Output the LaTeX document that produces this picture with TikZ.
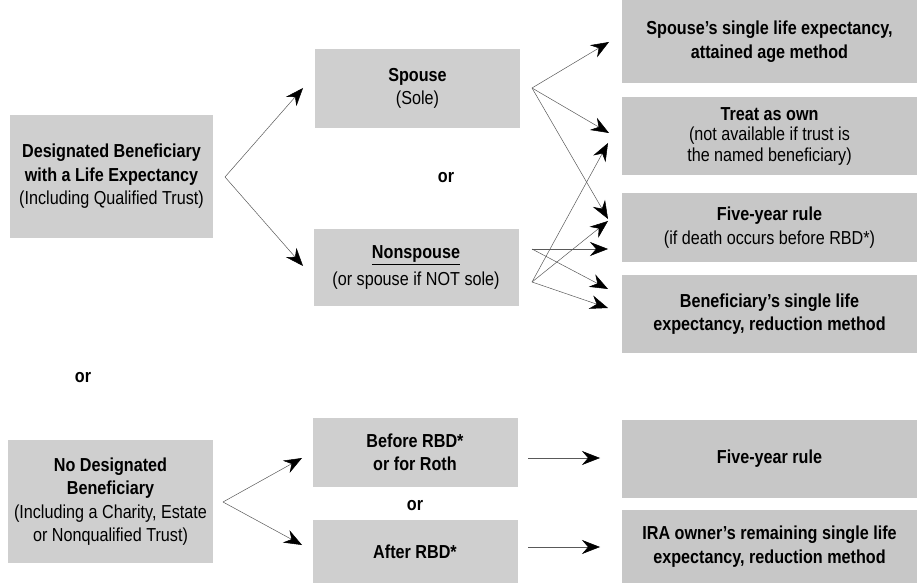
\documentclass[tikz,border=0pt]{standalone}
\usepackage{fontspec}
\setmainfont{Liberation Sans}[FakeStretch=0.86]
\usetikzlibrary{arrows.meta}
\definecolor{boxgray}{gray}{0.81}
\definecolor{rboxgray}{gray}{0.78}
\definecolor{linegray}{gray}{0.35}
\begin{document}
\begin{tikzpicture}[x=1pt,y=-1pt,
  box/.style={fill=boxgray, inner sep=0pt, align=center, text=black,
    font=\fontsize{18.8}{23.5}\selectfont},
  rbox/.style={box, fill=rboxgray, minimum width=295pt},
  midbox/.style={box, minimum width=205pt},
  ortext/.style={font=\fontsize{18.8}{20}\selectfont\bfseries, inner sep=0pt},
  arr/.style={draw=linegray, line width=0.5pt,
    -{Stealth[length=18pt,width=14pt,inset=6pt,color=black]}}]
\useasboundingbox (0,0) rectangle (919,585);

% left boxes
\node[box, minimum width=203pt, minimum height=123pt] (dbl) at (111.5,176.5)
  {\textbf{Designated Beneficiary}\\\textbf{with a Life Expectancy}\\(Including Qualified Trust)};
\node[box, minimum width=205pt, minimum height=123pt] (ndb) at (110.5,501.5)
  {\textbf{No Designated}\\\textbf{Beneficiary}\\(Including a Charity, Estate\\or Nonqualified Trust)};

% middle boxes
\node[midbox, minimum height=79pt] (sp) at (417.5,88.5)
  {\textbf{Spouse}\\(Sole)};
\node[midbox, minimum height=77pt] (ns) at (416,267.5)
  {\textbf{\underline{Nonspouse}}\\[3pt](or spouse if NOT sole)};
\node[midbox, minimum height=69pt] (bef) at (415,452.5)
  {\textbf{Before RBD*}\\\textbf{or for Roth}};
\node[midbox, minimum height=63pt] (aft) at (415,551.5)
  {\textbf{After RBD*}};

% right boxes
\node[rbox, minimum height=83pt] (r1) at (769.5,41.5)
  {\textbf{Spouse's single life expectancy,}\\\textbf{attained age method}};
\node[rbox, minimum height=78pt, font=\fontsize{18.8}{20.5}\selectfont] (r2) at (769.5,136)
  {\textbf{Treat as own}\\(not available if trust is\\the named beneficiary)};
\node[rbox, minimum height=69pt] (r3) at (769.5,227.5)
  {\textbf{Five-year rule}\\(if death occurs before RBD*)};
\node[rbox, minimum height=78pt] (r4) at (769.5,314)
  {\textbf{Beneficiary's single life}\\\textbf{expectancy, reduction method}};
\node[rbox, minimum height=78pt] (r5) at (769.5,459)
  {\textbf{Five-year rule}};
\node[rbox, minimum height=73pt] (r6) at (769.5,546.5)
  {\textbf{IRA owner's remaining single life}\\\textbf{expectancy, reduction method}};

% "or" labels
\node[ortext] (or1) at (446,178) {or};
\node[ortext] (or2) at (83,378) {or};
\node[ortext] (or3) at (415,506) {or};

% branch points and arrow tips
\coordinate (v1) at (225,177);
\coordinate (t1a) at (303,88);
\coordinate (t1b) at (303,266);
\coordinate (v2) at (223,502);
\coordinate (t2a) at (302,458);
\coordinate (t2b) at (302,545);

\coordinate (vs) at (532,88);
\coordinate (vna) at (532,249);
\coordinate (vnb) at (532,282);
\coordinate (ts1) at (609,42);
\coordinate (ts2) at (609,133);
\coordinate (ts3) at (608,219);
\coordinate (tna1) at (608,249);
\coordinate (tna2) at (608,289);
\coordinate (tnb1) at (608,143);
\coordinate (tnb2) at (608,221);
\coordinate (tnb3) at (608,308);

\coordinate (vb) at (528,458);
\coordinate (tb) at (600,458);
\coordinate (va) at (528,547);
\coordinate (ta) at (600,547);

\draw[arr] (v1) -- (t1a);
\draw[arr] (v1) -- (t1b);
\draw[arr] (v2) -- (t2a);
\draw[arr] (v2) -- (t2b);

\draw[arr] (vs) -- (ts1);
\draw[arr] (vs) -- (ts2);
\draw[arr] (vs) -- (ts3);
\draw[arr] (vna) -- (tna1);
\draw[arr] (vna) -- (tna2);
\draw[arr] (vnb) -- (tnb1);
\draw[arr] (vnb) -- (tnb2);
\draw[arr] (vnb) -- (tnb3);

\draw[arr] (vb) -- (tb);
\draw[arr] (va) -- (ta);
\end{tikzpicture}
\end{document}
